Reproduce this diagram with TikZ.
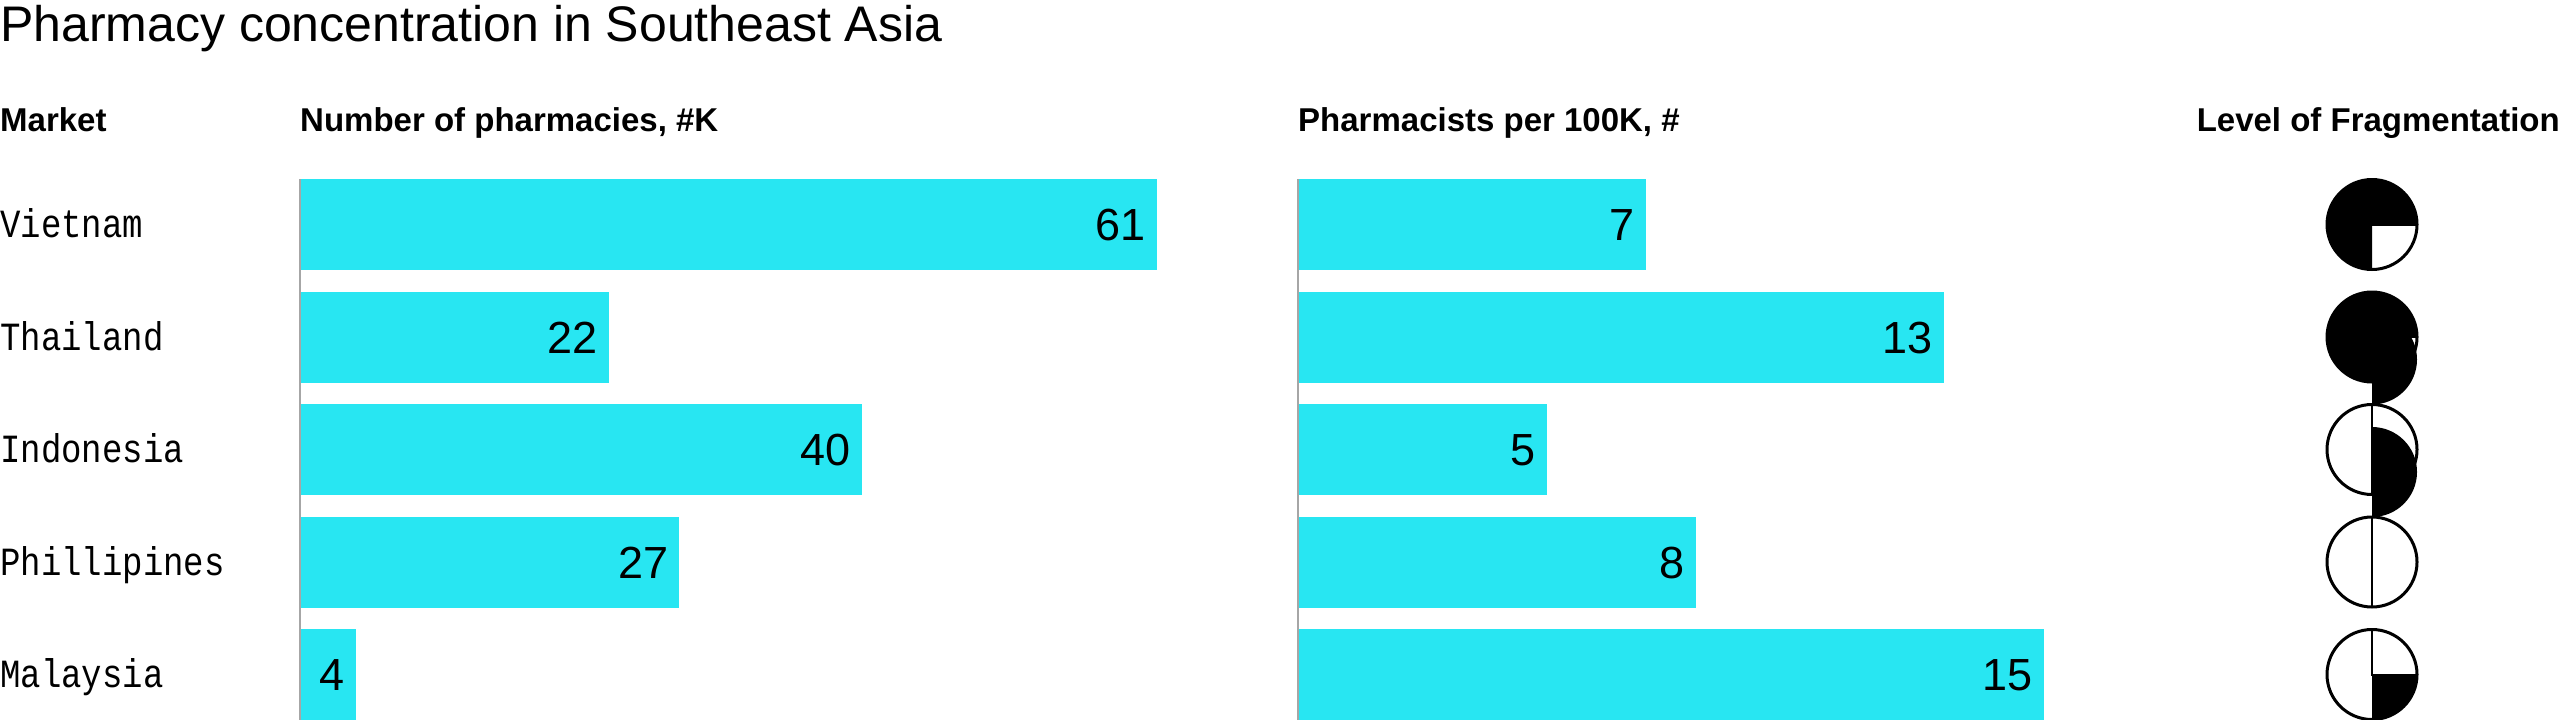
\documentclass[tikz,border=0pt]{standalone}
\usepackage{fontspec}
\setmainfont{Liberation Sans}
\newfontfamily\monof[FakeStretch=0.85]{Liberation Mono}
\definecolor{barc}{HTML}{28E6F2}
\begin{document}
\begin{tikzpicture}[x=1pt,y=-1pt,
  bar/.style={fill=barc,draw=none,inner sep=0,outer sep=0,minimum height=91pt,anchor=north west},
  val/.style={anchor=base east,inner sep=0,font=\fontsize{45}{50}\selectfont},
  lab/.style={anchor=base west,inner sep=0,font=\monof\fontsize{40}{46}\selectfont},
  hdr/.style={inner sep=0,font=\bfseries\fontsize{33}{40}\selectfont},
  pie/.style={line width=3pt}]
\useasboundingbox (0,0) rectangle (2560,720);
\node[anchor=base west,inner sep=0,font=\fontsize{50}{60}\selectfont] (title) at (0,41) {Pharmacy concentration in Southeast Asia};
\node[hdr,anchor=base west] (hm) at (0,131) {Market};
\node[hdr,anchor=base west] (h1) at (300,131) {Number of pharmacies, \#K};
\node[hdr,anchor=base west] (h2) at (1298,131) {Pharmacists per 100K, \#};
\node[hdr,anchor=base east] (h3) at (2560,131) {Level of Fragmentation};
\coordinate (a1t) at (300,179); \coordinate (a1b) at (300,720);
\coordinate (a2t) at (1298,179); \coordinate (a2b) at (1298,720);
\foreach \i/\name/\a/\b/\lvl in {0/Vietnam/61/7/3,1/Thailand/22/13/3,2/Indonesia/40/5/2,3/Phillipines/27/8/2,4/Malaysia/4/15/1}{
  \pgfmathsetmacro{\yt}{179+112.5*\i}
  \pgfmathsetmacro{\yc}{\yt+45.5}
  \pgfmathsetmacro{\wa}{14.05*\a}
  \pgfmathsetmacro{\wb}{49.7*\b}
  \node[lab] (l\i) at (0,\yc+13) {\name};
  \node[bar,minimum width=\wa pt] (ba\i) at (300,\yt) {};
  \node[val] (va\i) at ([xshift=-11pt,yshift=-16pt]ba\i.east) {\a};
  \node[bar,minimum width=\wb pt] (bb\i) at (1298,\yt) {};
  \node[val] (vb\i) at ([xshift=-11pt,yshift=-16pt]bb\i.east) {\b};
  \coordinate (c\i) at (2372,\yc);
  \ifnum\lvl=3
    \fill[black] (c\i) -- ++(45,0) arc[start angle=0,end angle=-270,radius=45] -- cycle;
  \fi
  \ifnum\lvl=2
    \fill[black] (c\i) ++(0,-45) arc[start angle=90,end angle=-90,radius=45] -- cycle;
  \fi
  \ifnum\lvl=1
    \fill[black] (c\i) -- ++(45,0) arc[start angle=0,end angle=90,radius=45] -- cycle;
  \fi
  \draw[pie] (c\i) circle[radius=45];
  \ifnum\lvl=2 \draw[line width=2pt] (c\i) ++(0,-45) -- ++(0,90); \fi
  \ifnum\lvl=3 \draw[line width=2pt] (c\i) ++(0,-45) |- ++(45,45); \fi
  \ifnum\lvl=1 \draw[line width=2pt] (c\i) ++(0,-45) |- ++(45,45); \fi
}
\draw[gray!70,line width=1.5pt] (a1t) -- (a1b);
\draw[gray!70,line width=1.5pt] (a2t) -- (a2b);
\end{tikzpicture}
\end{document}
